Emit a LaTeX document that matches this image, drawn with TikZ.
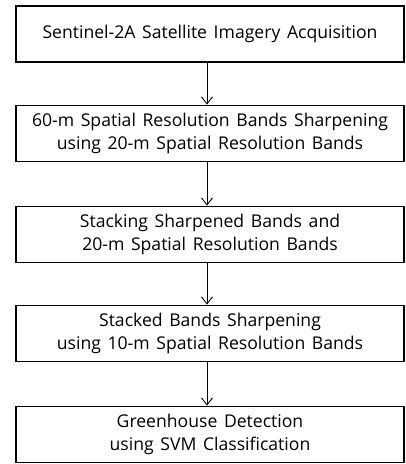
\documentclass[tikz,border=0pt]{standalone}
\usepackage{fontspec}
\setmainfont[WordSpace=1.45]{Open Sans}
\usetikzlibrary{arrows.meta}
\begin{document}
\begin{tikzpicture}[x=1pt,y=-1pt,
  stepbox/.style={draw=black,line width=1.8pt,minimum width=388pt,minimum height=56pt,
    align=center,font=\fontsize{17.6}{23}\selectfont,inner sep=0pt},
  flow/.style={line width=0.9pt,-{Straight Barb[length=7pt,width=11pt,line width=0.9pt]}}]
\useasboundingbox (0,0) rectangle (406,464);
\node[stepbox] (a) at (210,34) {Sentinel-2A Satellite Imagery Acquisition};
\node[stepbox] (b) at (210,133.5) {60-m Spatial Resolution Bands Sharpening\\using 20-m Spatial Resolution Bands};
\node[stepbox] (c) at (210,234.5) {Stacking Sharpened Bands and\\20-m Spatial Resolution Bands};
\node[stepbox] (d) at (210,333.5) {Stacked Bands Sharpening\\using 10-m Spatial Resolution Bands};
\node[stepbox] (e) at (210,434.5) {Greenhouse Detection\\using SVM Classification};
\draw[flow] ([xshift=-3pt]a.south) -- ([xshift=-3pt]b.north);
\draw[flow] ([xshift=-3pt]b.south) -- ([xshift=-3pt]c.north);
\draw[flow] ([xshift=-3pt]c.south) -- ([xshift=-3pt]d.north);
\draw[flow] ([xshift=-3pt]d.south) -- ([xshift=-3pt]e.north);
\end{tikzpicture}
\end{document}
